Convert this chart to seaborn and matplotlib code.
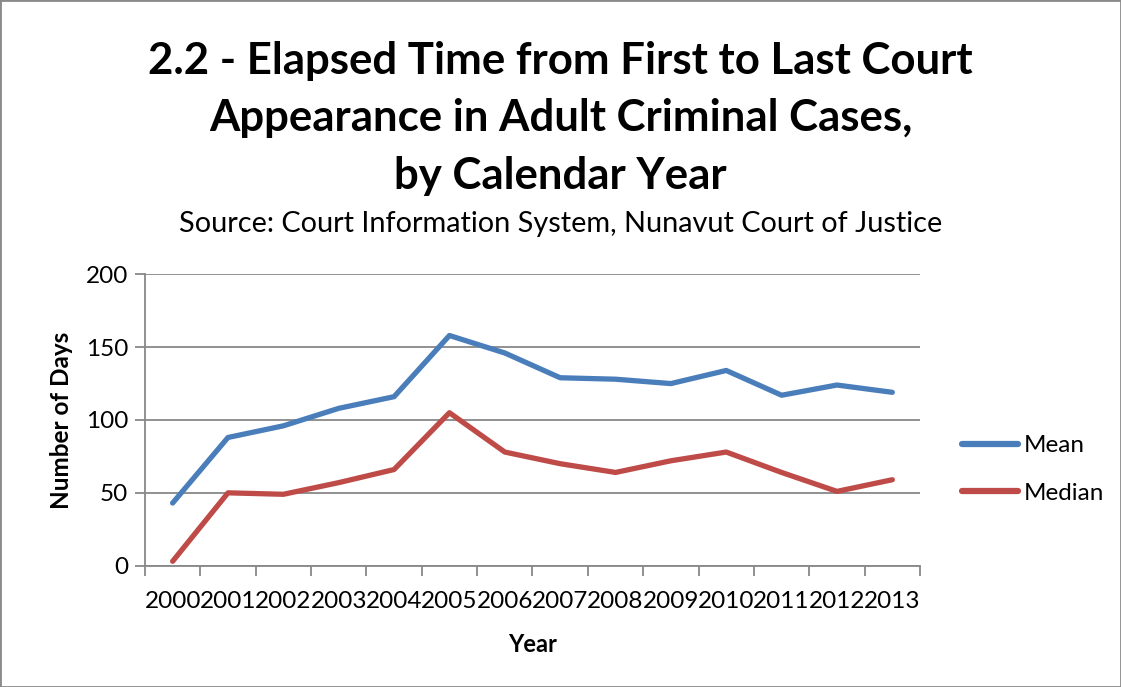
import matplotlib
matplotlib.use("Agg")
import matplotlib.pyplot as plt
from matplotlib.patches import Rectangle
from matplotlib.ticker import FixedLocator, NullFormatter
import seaborn as sns
import pandas as pd
import numpy as np

years = [str(y) for y in range(2000, 2014)]
mean_days = [43, 88, 96, 108, 116, 158, 146, 129, 128, 125, 134, 117, 124, 119]
median_days = [3, 50, 49, 57, 66, 105, 78, 70, 64, 72, 78, 64, 51, 59]
series_names = ["Mean", "Median"]
series_colors = ["#4A7EBB", "#BE4B48"]

df = pd.DataFrame({
    "pos": list(range(len(years))) * 2,
    "days": mean_days + median_days,
    "series": [series_names[0]] * len(years) + [series_names[1]] * len(years),
})

sns.set_theme(style="white")
plt.rcParams["font.family"] = ["Lato", "DejaVu Sans"]
plt.rcParams["text.color"] = "black"

fig = plt.figure(figsize=(11.21, 6.87), dpi=100)
ax = fig.add_axes([0.1293, 0.1766, 0.8207 - 0.1293, 0.6007 - 0.1766])

sns.lineplot(data=df, x="pos", y="days", hue="series", palette=series_colors,
             linewidth=3.8, ax=ax, legend=True, solid_capstyle="round")

grid_c = "#888888"
ax.set_xlim(-0.5, len(years) - 0.5)
ax.set_ylim(0, 200)
ax.set_yticks([0, 50, 100, 150, 200])
ax.yaxis.grid(True, color=grid_c, linewidth=1.3)
ax.set_axisbelow(True)

# boundaries carry tick marks, category centres carry labels
ax.xaxis.set_major_locator(FixedLocator(np.arange(-0.5, len(years), 1.0)))
ax.xaxis.set_major_formatter(NullFormatter())
ax.xaxis.set_minor_locator(FixedLocator(np.arange(len(years))))
ax.set_xticklabels(years, minor=True)
ax.tick_params(axis="x", which="major", direction="out", length=7, width=1.3,
               color=grid_c, bottom=True)
ax.tick_params(axis="x", which="minor", length=0, labelsize=17.5, pad=18,
               labelcolor="black", bottom=True)
ax.tick_params(axis="y", direction="out", length=7, width=1.3, color=grid_c,
               labelsize=17.5, pad=5, left=True, labelcolor="black")

for side in ["top", "right"]:
    ax.spines[side].set_visible(False)
for side in ["left", "bottom"]:
    ax.spines[side].set_color(grid_c)
    ax.spines[side].set_linewidth(1.3)

ax.set_xlabel("Year", fontsize=17, fontweight="bold", labelpad=15, color="black")
ax.set_ylabel("Number of Days", fontsize=17.5, fontweight="bold", labelpad=9,
              color="black")

leg = ax.legend(loc="center left", bbox_to_anchor=(1.026, 0.33), frameon=False,
                fontsize=17.5, handlelength=2.3, handletextpad=0.25, labelspacing=1.1)
for h in leg.get_lines():
    h.set_linewidth(4.5)
for t in leg.get_texts():
    t.set_color("black")

fig.text(0.5, 0.94, "2.2 - Elapsed Time from First to Last Court\n"
         "Appearance in Adult Criminal Cases,\nby Calendar Year",
         ha="center", va="top", fontsize=31.5, fontweight="bold", linespacing=1.52,
         color="black")
fig.text(0.5, 0.655, "Source: Court Information System, Nunavut Court of Justice",
         ha="center", va="bottom", fontsize=20.8, color="black")

fig.add_artist(Rectangle((0.0, 0.0), 1.0, 1.0, transform=fig.transFigure,
                         fill=False, edgecolor="#8a8a8a", linewidth=2))

fig.savefig("out.png", dpi=100)
